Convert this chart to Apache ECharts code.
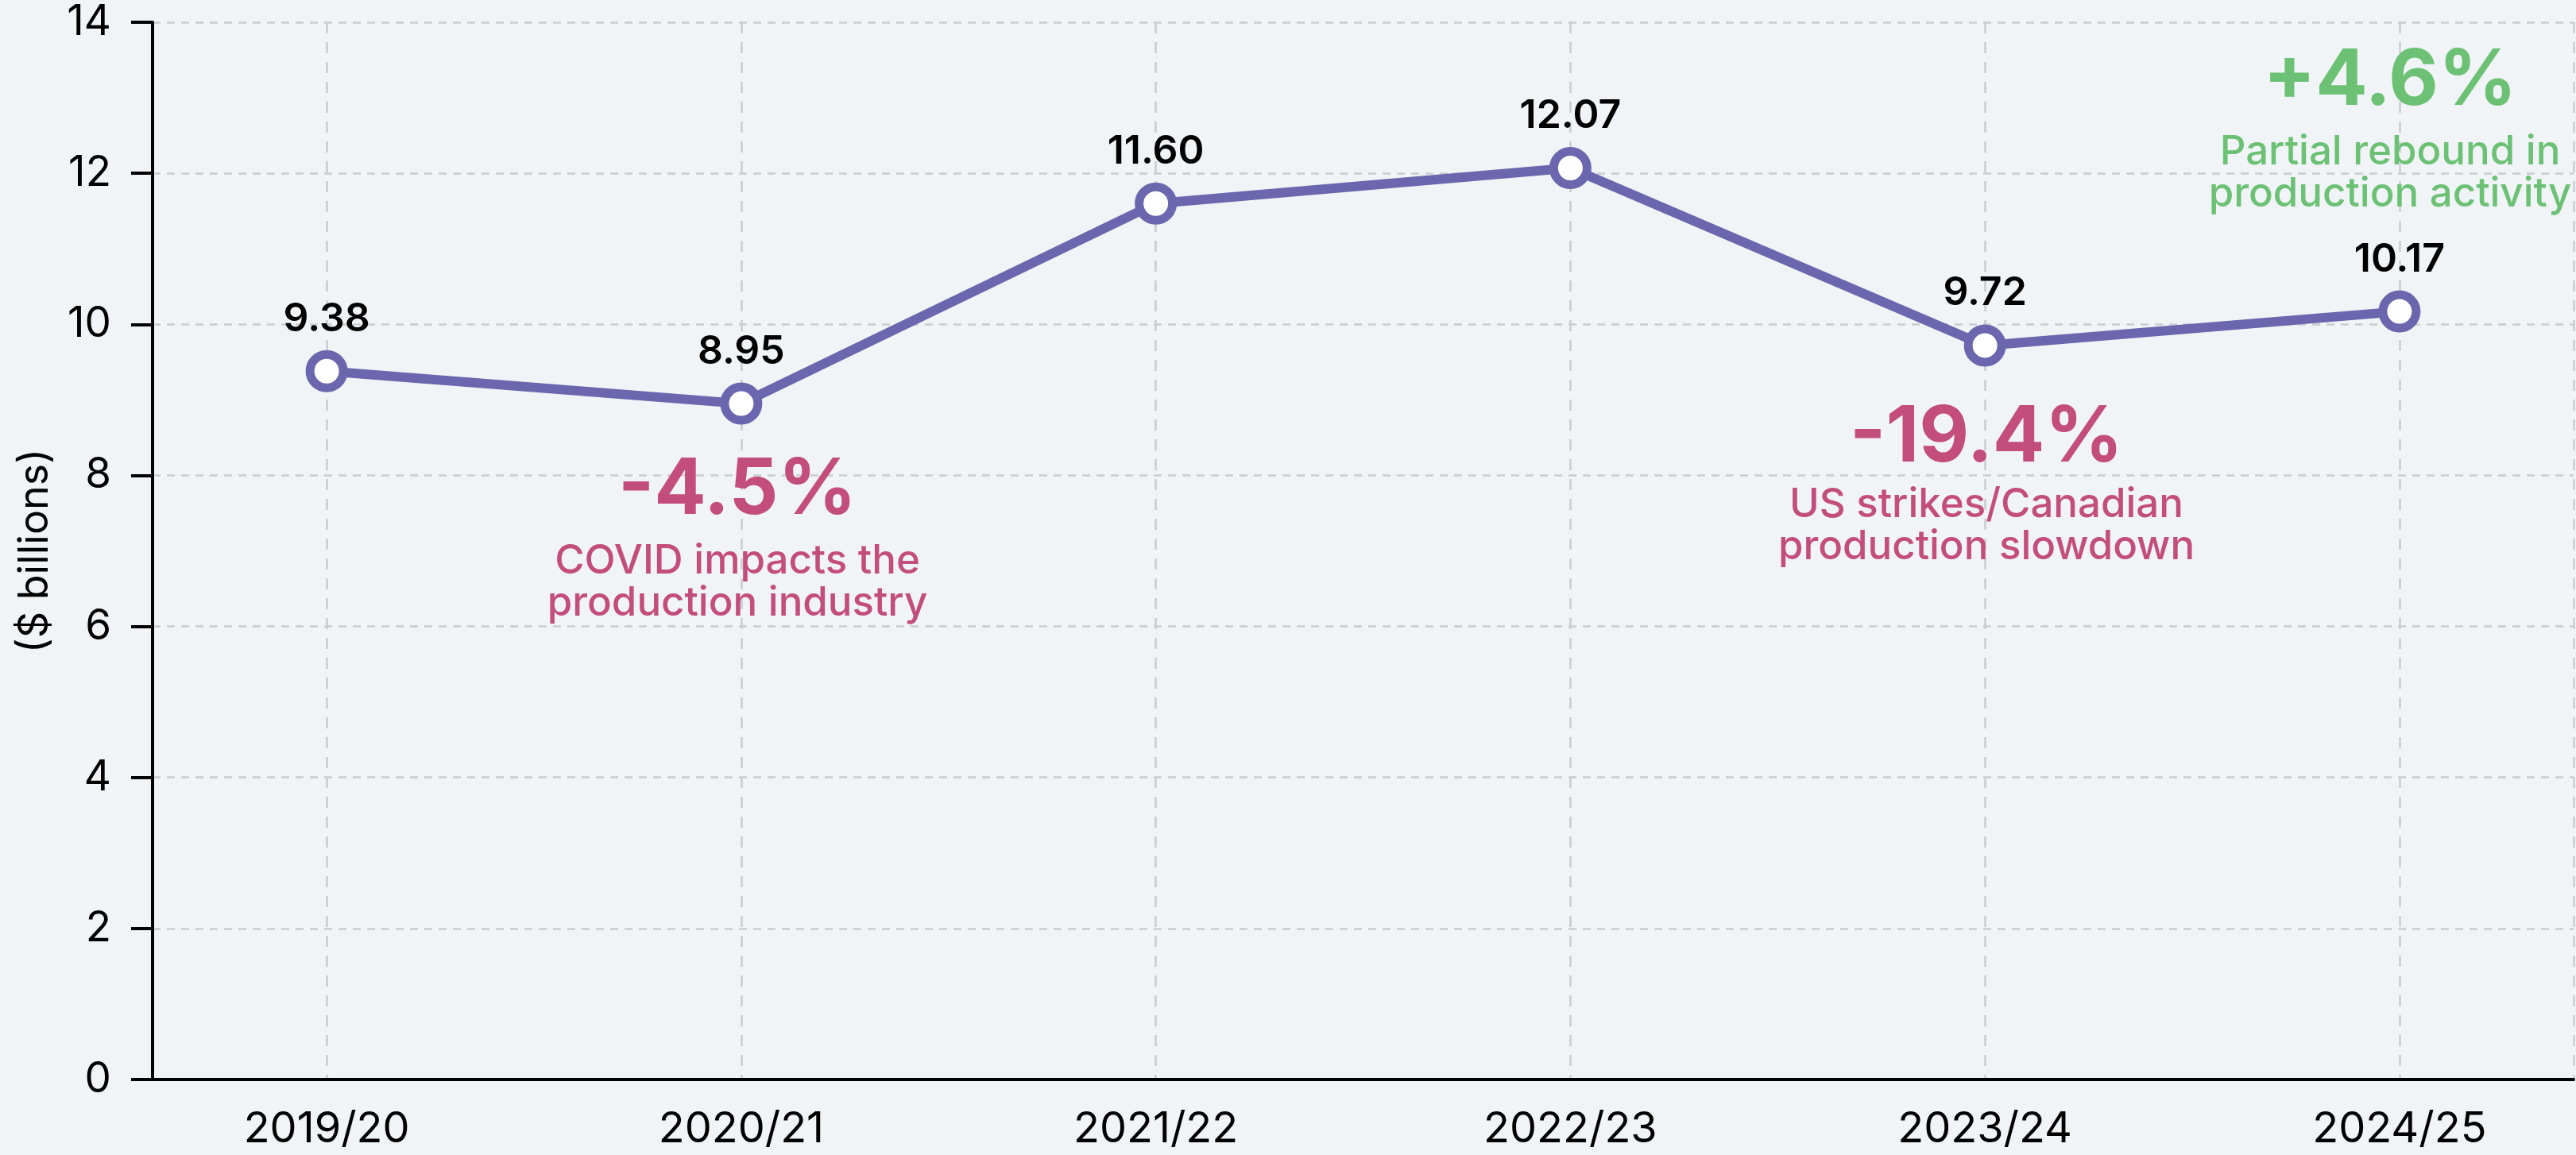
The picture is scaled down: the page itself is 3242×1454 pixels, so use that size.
<!DOCTYPE html>
<html>
<head>
<meta charset="utf-8">
<script src="https://cdn.jsdelivr.net/npm/echarts@6/dist/echarts.min.js"></script>
<style>
    html, body { margin: 0; padding: 0; background: #f0f4f7; }
    #main { width: 3242px; height: 1454px; }
</style>
</head>
<body>
<div id="main"></div>
<script>
    // data
    var categories = ['2019/20', '2020/21', '2021/22', '2022/23', '2023/24', '2024/25'];
    var values = [9.38, 8.95, 11.60, 12.07, 9.72, 10.17];
    var yTicks = [0, 14, 2]; // min, max, step

    // annotation texts
    var changeLabels = ['-4.5%', '-19.4%', '+4.6%'];
    var changeNotes = [
        'COVID impacts the\nproduction industry',
        'US strikes/Canadian\nproduction slowdown',
        'Partial rebound in\nproduction activity'
    ];

    var purple = '#6b66ad';
    var pink = '#c34d7b';
    var green = '#6cc175';
    var font = 'Inter, "Noto Sans", sans-serif';

    var points = [];
    for (var i = 0; i < values.length; i++) {
        points.push([i, values[i]]);
    }

    var myChart = echarts.init(document.getElementById('main'));

    function note(idx, x, y1, y2, color) {
        return [{
            type: 'text', x: x, y: y1, z: 10,
            style: {
                text: changeLabels[idx], fill: color,
                font: 'bold 97px ' + font,
                align: 'center', verticalAlign: 'middle'
            }
        }, {
            type: 'text', x: x, y: y2, z: 10,
            style: {
                text: changeNotes[idx], fill: color,
                font: '500 51px ' + font, lineHeight: 53,
                align: 'center', verticalAlign: 'middle'
            }
        }];
    }

    var option = {
        backgroundColor: '#f0f4f7',
        animation: false,
        grid: { left: 192, right: 2, top: 28, bottom: 95 },
        xAxis: {
            type: 'value',
            min: -0.42,
            max: categories.length - 1 + 0.42,
            minInterval: 1,
            maxInterval: 1,
            axisLine: { show: true, onZero: false, lineStyle: { color: '#000', width: 4 } },
            axisTick: { show: false },
            axisLabel: {
                margin: 36,
                fontFamily: font, fontSize: 54, color: '#000',
                formatter: function (v) {
                    return (Math.abs(v - Math.round(v)) < 1e-6 && categories[Math.round(v)]) || '';
                }
            },
            splitLine: {
                show: true,
                lineStyle: { color: '#c9ccd0', width: 2.5, type: [14, 11] }
            }
        },
        yAxis: {
            type: 'value',
            min: yTicks[0], max: yTicks[1], interval: yTicks[2],
            name: '($ billions)',
            nameLocation: 'middle',
            nameGap: 122,
            nameRotate: 90,
            nameTextStyle: { fontFamily: font, fontSize: 52, color: '#000' },
            axisLine: { show: true, onZero: false, lineStyle: { color: '#000', width: 4 } },
            axisTick: { show: true, inside: false, length: 27, lineStyle: { color: '#000', width: 4 } },
            axisLabel: { margin: 52, fontFamily: font, fontSize: 53, color: '#000' },
            splitLine: {
                show: true,
                lineStyle: { color: '#c9ccd0', width: 2.5, type: [10, 8] }
            }
        },
        series: [{
            type: 'line',
            data: points,
            lineStyle: { color: purple, width: 12 },
            symbol: 'circle',
            symbolSize: 42,
            itemStyle: { color: '#fff', borderColor: purple, borderWidth: 11 },
            label: {
                show: true,
                position: 'top',
                distance: 14,
                fontFamily: font, fontSize: 50, fontWeight: 600, color: '#000',
                formatter: function (p) { return p.value[1].toFixed(2); }
            },
            z: 5
        }],
        graphic: [].concat(
            note(0, 928, 618, 733, pink),
            note(1, 2500, 552, 662, pink),
            note(2, 3008, 103, 218, green)
        )
    };
    myChart.setOption(option);
</script>
</body>
</html>
